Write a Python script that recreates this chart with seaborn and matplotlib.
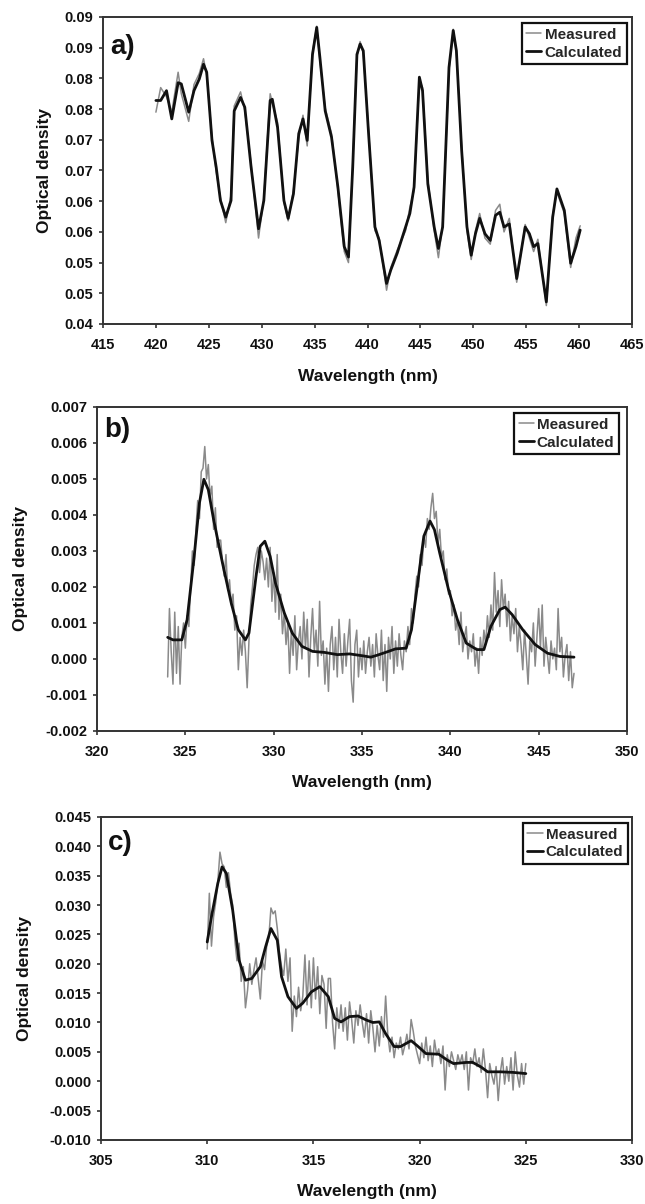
"""Three-panel spectra: measured vs calculated optical density"""

import numpy as np
import matplotlib
matplotlib.use("Agg")
import matplotlib.pyplot as plt
import seaborn as sns

# ---- panel a (optical density) ----
wl_a = [420.0, 420.45, 421.0, 421.5, 422.1, 422.4, 423.1, 423.6, 424.1, 424.5,
        424.8, 425.3, 425.7, 426.1, 426.6, 427.1, 427.4, 428.0, 428.4, 429.0,
        429.7, 430.2, 430.8, 431.0, 431.5, 432.1, 432.5, 433.0, 433.5, 433.9,
        434.3, 434.8, 435.2, 435.5, 436.0, 436.6, 437.2, 437.8, 438.2, 438.6,
        439.0, 439.3, 439.6, 440.1, 440.7, 441.1, 441.8, 442.2, 442.8, 443.6,
        444.0, 444.4, 444.9, 445.2, 445.7, 446.3, 446.7, 447.1, 447.7, 448.1,
        448.4, 448.9, 449.4, 449.8, 450.2, 450.6, 451.1, 451.6, 452.1, 452.5,
        452.9, 453.4, 454.1, 454.9, 455.3, 455.7, 456.1, 456.9, 457.5, 457.9,
        458.6, 459.2, 459.7, 460.1]
od_a_calc = [0.0764, 0.0764, 0.0780, 0.0734, 0.0793, 0.0791, 0.0745, 0.0780, 0.0799, 0.0823,
             0.0810, 0.0699, 0.0655, 0.0601, 0.0574, 0.0601, 0.0747, 0.0769, 0.0753, 0.0655,
             0.0555, 0.0601, 0.0764, 0.0766, 0.0720, 0.0601, 0.0572, 0.0612, 0.0710, 0.0734,
             0.0699, 0.0839, 0.0883, 0.0834, 0.0747, 0.0704, 0.0623, 0.0526, 0.0509, 0.0655,
             0.0839, 0.0856, 0.0845, 0.0710, 0.0558, 0.0536, 0.0466, 0.0488, 0.0515, 0.0558,
             0.0580, 0.0623, 0.0802, 0.0780, 0.0628, 0.0558, 0.0523, 0.0558, 0.0818, 0.0878,
             0.0845, 0.0682, 0.0558, 0.0512, 0.0547, 0.0572, 0.0547, 0.0536, 0.0577, 0.0582,
             0.0558, 0.0563, 0.0474, 0.0558, 0.0547, 0.0526, 0.0531, 0.0436, 0.0574, 0.0620,
             0.0585, 0.0499, 0.0526, 0.0553]
od_a_meas = [0.0745, 0.0785, 0.0770, 0.0745, 0.0810, 0.0775, 0.0730, 0.0790, 0.0808, 0.0832,
             0.0805, 0.0705, 0.0648, 0.0605, 0.0565, 0.0610, 0.0755, 0.0778, 0.0748, 0.0660,
             0.0540, 0.0605, 0.0775, 0.0760, 0.0728, 0.0598, 0.0568, 0.0618, 0.0702, 0.0740,
             0.0690, 0.0843, 0.0885, 0.0828, 0.0752, 0.0710, 0.0618, 0.0518, 0.0500, 0.0660,
             0.0835, 0.0860, 0.0840, 0.0715, 0.0552, 0.0540, 0.0455, 0.0492, 0.0520, 0.0552,
             0.0590, 0.0618, 0.0798, 0.0785, 0.0635, 0.0552, 0.0508, 0.0562, 0.0812, 0.0880,
             0.0842, 0.0688, 0.0552, 0.0505, 0.0552, 0.0580, 0.0540, 0.0530, 0.0585, 0.0595,
             0.0550, 0.0572, 0.0468, 0.0562, 0.0540, 0.0518, 0.0538, 0.0430, 0.0578, 0.0615,
             0.0580, 0.0492, 0.0540, 0.0560]
yticks_a = [0.04, 0.045, 0.05, 0.055, 0.06, 0.065, 0.07, 0.075, 0.08, 0.085, 0.09]
ylabels_a = ["0.04", "0.05", "0.05", "0.06", "0.06", "0.07", "0.07", "0.08", "0.08", "0.09", "0.09"]
xticks_a = [415, 420, 425, 430, 435, 440, 445, 450, 455, 460, 465]

# ---- panel b (milli optical density) ----
wl_b_meas = np.round(np.arange(324.0, 347.05, 0.1), 1)
od_b_meas = [
    -0.5, 1.4, 0.2, -0.7, 1.3, -0.4, 0.9, -0.7, 0.6, 1.0,
    0.3, 1.2, 0.9, 2.0, 3.0, 2.6, 3.6, 4.4, 3.9, 5.2,
    5.3, 5.9, 5.0, 5.4, 4.5, 4.8, 3.6, 4.2, 3.1, 3.3,
    3.3, 2.7, 2.3, 2.9, 1.9, 2.2, 1.5, 1.8, 0.8, 1.2,
    -0.3, 0.6, 0.1, 0.8, 0.2, -0.8, 0.5, 1.5, 2.0, 2.6,
    2.9, 3.1, 2.4, 3.0, 2.7, 2.2, 2.8, 2.0, 3.1, 1.6,
    2.4, 1.3, 2.9, 1.1, 1.8, 0.7, 1.3, 0.4, 1.0, -0.4,
    0.8, 0.1, 1.2, -0.3, 0.5, 0.9, 0.0, 1.3, 0.3, 1.1,
    -0.5, 0.6, 1.4, 0.2, 0.8, -0.2, 1.6, 0.1, 0.5, -0.7,
    0.3, -0.9, 0.4, 0.9, -0.3, 0.6, -0.5, 1.1, 0.2, -0.4,
    0.7, -0.2, 0.5, 1.1, -0.6, -1.2, 0.4, 0.8, -0.5, 0.3,
    -0.3, 0.5, -0.4, 0.2, 0.6, -0.2, 0.4, -0.5, 0.7, 0.1,
    -0.3, 0.8, -0.6, 0.4, -0.9, 0.6, 0.0, 0.9, -0.4, 0.5,
    -0.2, 0.7, 0.1, -0.3, 0.5, 0.2, 0.9, 0.4, 1.4, 1.0,
    1.8, 2.3, 2.0, 2.9, 2.6, 3.4, 3.1, 3.9, 3.6, 4.2,
    4.6, 3.9, 4.1, 3.2, 3.6, 2.8, 3.0, 2.2, 2.5, 1.8,
    1.9, 1.2, 1.5, 0.8, 1.1, 0.4, 1.3, 0.2, 0.6, 0.9,
    0.0, 0.5, 0.2, 0.7, -0.2, 0.3, -0.4, 0.6, 0.1, 0.8,
    0.4, 1.2, 0.6, 1.5, 0.8, 2.4, 1.3, 1.9, 0.9, 2.2,
    1.4, 1.8, 0.9, 1.6, 0.5, 1.2, 0.7, 1.4, 0.2, 0.9,
    0.4, -0.3, 0.8, 0.1, -0.7, 0.5, 0.2, 1.0, -0.2, 0.6,
    1.4, 0.3, 1.5, -0.2, 0.6, 0.1, -0.4, 0.5, 0.0, 0.3,
    -0.3, 1.4, 0.2, 0.6, -0.5, 0.1, 0.4, -0.6, 0.2, -0.8,
    -0.4]
wl_b_calc = [324.0, 324.3, 324.8, 325.1, 325.5, 325.8, 326.05, 326.3, 326.6, 327.1,
             327.6, 328.0, 328.4, 328.6, 329.0, 329.24, 329.5, 329.8, 330.1, 330.6,
             331.05, 331.6, 332.2, 332.9, 333.6, 334.3, 335.0, 335.5, 335.9, 336.5,
             336.9, 337.5, 337.8, 338.2, 338.5, 338.85, 339.1, 339.4, 339.9, 340.4,
             340.9, 341.5, 341.9, 342.3, 342.8, 343.1, 343.5, 344.1, 344.8, 345.5,
             346.2, 347.0]
od_b_calc = [0.6, 0.53, 0.53, 1.09, 2.85, 4.34, 4.99, 4.7, 3.87, 2.67,
             1.55, 0.81, 0.53, 0.72, 2.29, 3.13, 3.27, 2.85, 2.11, 1.28,
             0.72, 0.35, 0.21, 0.18, 0.12, 0.14, 0.09, 0.05, 0.11, 0.21,
             0.28, 0.30, 0.81, 2.29, 3.41, 3.83, 3.59, 2.94, 1.92, 1.09,
             0.44, 0.26, 0.26, 0.91, 1.37, 1.44, 1.23, 0.81, 0.40, 0.16,
             0.07, 0.05]
yticks_b = [-0.002, -0.001, 0.0, 0.001, 0.002, 0.003, 0.004, 0.005, 0.006, 0.007]
ylabels_b = ["-0.002", "-0.001", "0.000", "0.001", "0.002", "0.003", "0.004", "0.005", "0.006", "0.007"]
xticks_b = [320, 325, 330, 335, 340, 345, 350]

# ---- panel c (milli optical density) ----
wl_c_meas = np.round(np.arange(310.0, 325.05, 0.1), 1)
od_c_meas = [
    22.5, 32.0, 23.0, 28.0, 30.5, 34.0, 39.0, 37.0, 36.5, 33.0,
    35.5, 32.0, 30.0, 24.0, 20.5, 23.5, 17.0, 19.5, 12.5, 15.5,
    20.0, 16.5, 19.0, 21.0, 17.5, 14.0, 20.5, 19.0, 23.0, 24.5,
    29.5, 28.5, 29.0, 26.0, 22.0, 19.5, 18.0, 22.5, 17.0, 21.0,
    8.5, 14.5, 11.0, 16.0, 12.0, 14.5, 21.5, 13.0, 20.5, 12.5,
    21.0, 14.0, 19.5, 11.5, 18.0, 16.5, 9.0, 17.5, 17.5, 10.0,
    5.5, 12.5, 9.0, 13.0, 8.5, 12.5, 7.0, 13.5, 10.5, 6.5,
    12.0, 9.5, 13.0, 10.0, 7.5, 11.5, 6.5, 12.0, 9.0, 5.0,
    9.5, 6.0, 11.0, 7.5, 14.5, 8.0, 5.0, 7.5, 4.0, 6.5,
    5.5, 7.5, 4.5, 6.0, 8.0, 5.5, 10.5, 8.5, 6.0, 4.5,
    3.0, 6.5, 4.0, 7.5, 3.5, 6.0, 2.5, 7.0, 4.5, 5.5,
    3.0, 6.0, -1.5, 4.5, 2.5, 5.0, 3.5, 2.0, 4.5, 3.0,
    4.5, 2.0, 5.0, -1.5, 4.0, 3.0, 5.5, 2.5, 4.0, 1.5,
    5.5, 2.0, -2.8, 3.0, 1.0, -0.5, 2.5, -3.3, 1.5, 4.0,
    -0.5, 2.5, 0.0, 4.0, -1.5, 5.0, 1.0, -1.0, 3.0, -0.5,
    3.0]
wl_c_calc = [310.0, 310.2, 310.5, 310.7, 310.9, 311.2, 311.5, 311.8, 312.1, 312.5,
             312.75, 313.0, 313.3, 313.5, 313.8, 314.2, 314.5, 314.9, 315.3, 315.7,
             316.0, 316.3, 316.7, 317.1, 317.5, 317.8, 318.1, 318.4, 318.8, 319.1,
             319.6, 319.9, 320.3, 320.9, 321.3, 321.6, 322.2, 322.5, 322.9, 323.2,
             323.8, 324.4, 325.0]
od_c_calc = [23.7, 28.0, 33.7, 36.5, 35.4, 29.1, 20.6, 17.2, 17.5, 19.5,
             22.9, 26.0, 24.0, 17.8, 14.4, 12.4, 13.3, 15.2, 16.1, 14.4,
             10.7, 10.1, 11.0, 11.1, 10.4, 10.0, 10.1, 8.1, 5.9, 5.9,
             6.9, 6.0, 4.7, 4.6, 3.6, 3.0, 3.2, 3.2, 2.4, 1.6,
             1.6, 1.5, 1.3]
yticks_c = [-0.010, -0.005, 0.0, 0.005, 0.010, 0.015, 0.020, 0.025, 0.030, 0.035, 0.040, 0.045]
ylabels_c = ["-0.010", "-0.005", "0.000", "0.005", "0.010", "0.015", "0.020",
             "0.025", "0.030", "0.035", "0.040", "0.045"]
xticks_c = [305, 310, 315, 320, 325, 330]

sns.set_theme(style="ticks")
plt.rcParams["font.family"] = ["Liberation Sans", "DejaVu Sans"]
plt.rcParams["font.weight"] = "bold"
plt.rcParams["axes.unicode_minus"] = False

MEAS_COLOR = "#8a8a8a"
CALC_COLOR = "#111111"
SPINE_COLOR = "#333333"

fig = plt.figure(figsize=(6.45, 12.04), dpi=100)

panels = [
    # rect, letter, meas x, meas y, calc x, calc y, xticks, yticks, ylabels, ylabel x, xlabel y, letter y, legend anchor
    ([0.1597, 0.7309, 0.8202, 0.2550], "a)", wl_a, np.array(od_a_meas), wl_a, np.array(od_a_calc),
     xticks_a, yticks_a, ylabels_a, -0.110, -0.172, 0.945, (0.990, 0.980)),
    ([0.1504, 0.3929, 0.8217, 0.2691], "b)", wl_b_meas, np.array(od_b_meas) / 1000, wl_b_calc,
     np.array(od_b_calc) / 1000, xticks_b, yticks_b, ylabels_b, -0.145, -0.160, 0.968, (0.985, 0.981)),
    ([0.1566, 0.0532, 0.8233, 0.2683], "c)", wl_c_meas, np.array(od_c_meas) / 1000, wl_c_calc,
     np.array(od_c_calc) / 1000, xticks_c, yticks_c, ylabels_c, -0.145, -0.161, 0.960, (0.992, 0.981)),
]

for rect, letter, xm, ym, xc, yc, xt, yt, yl, ylx, xly, lety, leg in panels:
    ax = fig.add_axes(rect)
    sns.lineplot(x=xm, y=ym, ax=ax, color=MEAS_COLOR, lw=1.1, label="Measured",
                 sort=False, estimator=None)
    sns.lineplot(x=xc, y=yc, ax=ax, color=CALC_COLOR, lw=2.0, label="Calculated",
                 sort=False, estimator=None)

    ax.set_xlim(xt[0], xt[-1])
    ax.set_ylim(yt[0], yt[-1])
    ax.set_xticks(xt)
    ax.set_xticklabels([str(t) for t in xt])
    ax.set_yticks(yt)
    ax.set_yticklabels(yl)
    ax.tick_params(direction="out", length=3, width=1.2, color=SPINE_COLOR,
                   labelsize=10.5, labelcolor="#111111")
    ax.tick_params(axis="x", pad=7)
    ax.tick_params(axis="y", pad=4)
    for s in ax.spines.values():
        s.set_visible(True)
        s.set_color(SPINE_COLOR)
        s.set_linewidth(1.4)

    ax.set_xlabel("Wavelength (nm)", fontsize=12.5, fontweight="bold", va="center", color="#111111")
    ax.set_ylabel("Optical density", fontsize=12.5, fontweight="bold", va="center", color="#111111")
    ax.xaxis.set_label_coords(0.5, xly)
    ax.yaxis.set_label_coords(ylx, 0.5)

    ax.text(0.013, lety, letter, transform=ax.transAxes, ha="left", va="top",
            fontsize=20, fontweight="bold", color="#111111")

    lg = ax.legend(loc="upper right", bbox_to_anchor=leg, borderaxespad=0,
                   fancybox=False, frameon=True, framealpha=1, edgecolor="#111111",
                   prop={"size": 11, "weight": "bold"}, handlelength=1.0,
                   handletextpad=0.2, labelspacing=0.25, borderpad=0.3)
    lg.get_frame().set_linewidth(1.6)

fig.savefig("out.png", dpi=100)
